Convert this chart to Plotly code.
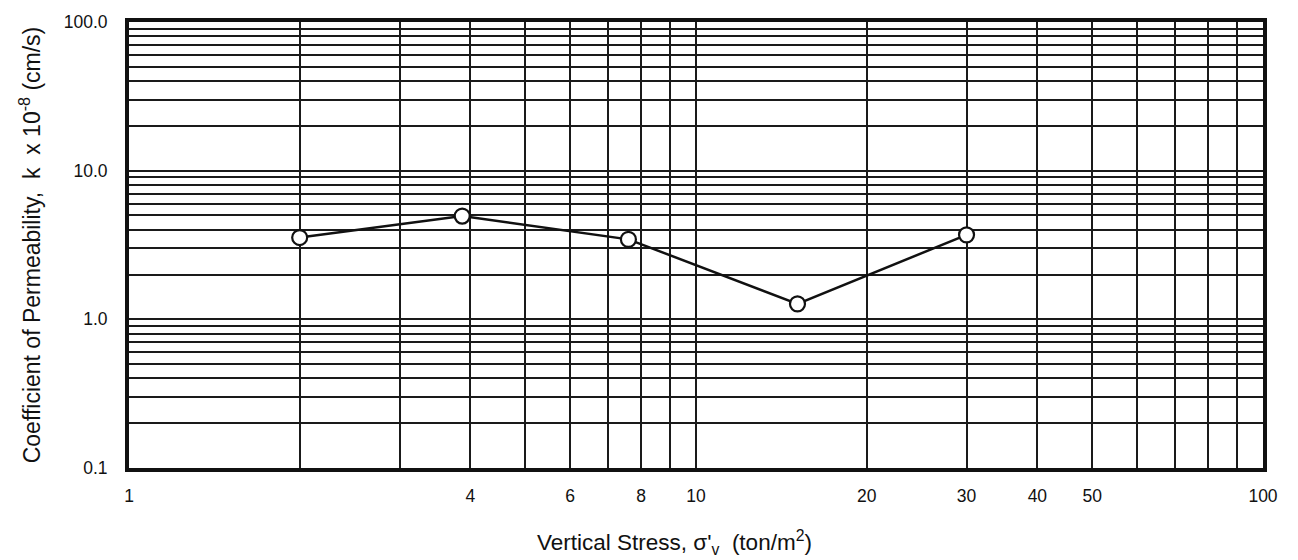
import plotly.graph_objects as go

# Data
vertical_stress = [2.0, 3.87, 7.6, 15.1, 30.0]          # ton/m^2
permeability = [3.55, 4.95, 3.45, 1.27, 3.7]            # k x 10^-8 cm/s

x_tick_vals = [1, 4, 6, 8, 10, 20, 30, 40, 50, 100]
x_tick_text = ["1", "4", "6", "8", "10", "20", "30", "40", "50", "100"]
x_grid_vals = [2, 3, 5, 7, 9, 60, 70, 80, 90]

y_tick_vals = [0.1, 1.0, 10.0, 100.0]
y_tick_text = ["0.1", "1.0", "10.0", "100.0"]
y_grid_vals = ([0.1 * i for i in range(2, 10)] + [float(i) for i in range(2, 10)]
               + [10.0 * i for i in range(2, 10)])

FONT = "Arial, 'Liberation Sans', Helvetica, sans-serif"
NB = "\u00a0"

fig = go.Figure()
fig.add_trace(go.Scatter(
    x=vertical_stress, y=permeability, mode="lines+markers",
    line=dict(color="#111111", width=2.5),
    marker=dict(symbol="circle", size=15, color="white",
                line=dict(color="#111111", width=2.2)),
    showlegend=False,
))

axis_common = dict(
    type="log",
    showgrid=True, gridcolor="#1a1a1a", gridwidth=1.6,
    showline=True, linecolor="#111111", linewidth=4, mirror=True,
    zeroline=False,
    tickmode="array",
    ticks="outside", tickcolor="rgba(0,0,0,0)",
    tickfont=dict(family=FONT, size=17.5, color="#111111"),
)

fig.update_xaxes(range=[0, 2], tickvals=x_tick_vals, ticktext=x_tick_text, ticklen=9,
                 minor=dict(tickmode="array", tickvals=x_grid_vals, showgrid=True,
                            gridcolor="#1a1a1a", gridwidth=1.6, ticks=""),
                 **axis_common)
fig.update_yaxes(range=[-1, 2], tickvals=y_tick_vals, ticktext=y_tick_text, ticklen=14,
                 minor=dict(tickmode="array", tickvals=y_grid_vals, showgrid=True,
                            gridcolor="#1a1a1a", gridwidth=1.6, ticks=""),
                 title=dict(text="Coefficient of Permeability," + NB * 2 + "k" + NB * 2 +
                                 "x 10<sup>-8</sup> (cm/s)",
                            font=dict(family=FONT, size=23, color="#111111"),
                            standoff=18),
                 **axis_common)

fig.add_annotation(
    text="Vertical Stress, σ'<sub>v</sub>" + NB * 2 + "(ton/m<sup>2</sup>)",
    xref="paper", yref="paper", x=0.4806, y=0, yanchor="middle", xanchor="center",
    yshift=-74, showarrow=False,
    font=dict(family=FONT, size=22.5, color="#111111"),
)

fig.update_layout(
    width=1298, height=560,
    margin=dict(l=129, r=35, t=17, b=92),
    paper_bgcolor="white", plot_bgcolor="white",
    font=dict(family=FONT, color="#111111"),
)

fig.write_html("out.html")
